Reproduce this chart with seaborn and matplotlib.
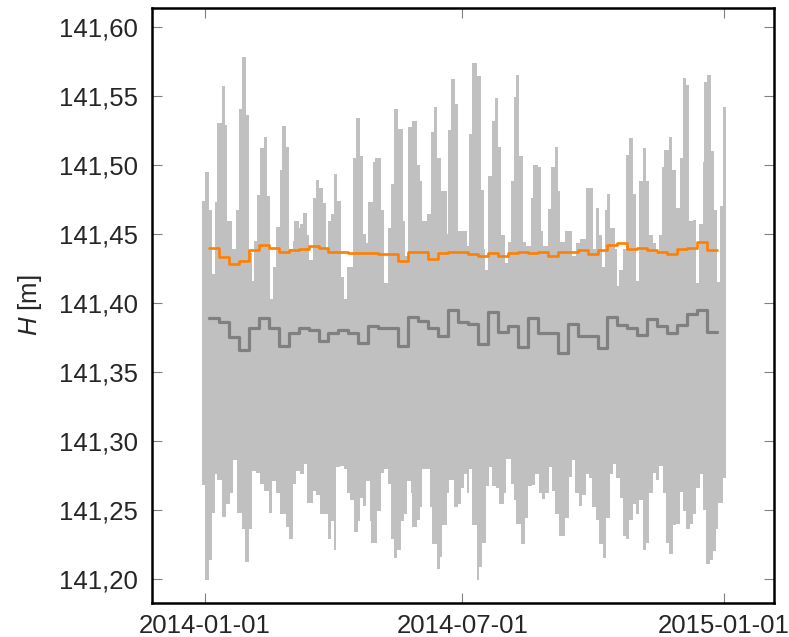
import numpy as np
import pandas as pd
import matplotlib
matplotlib.use("Agg")
import matplotlib.pyplot as plt
import seaborn as sns
from matplotlib.ticker import FuncFormatter

sns.set_theme(style="white")
plt.rcParams["font.family"] = ["Liberation Sans", "DejaVu Sans"]
plt.rcParams["mathtext.fontset"] = "custom"
plt.rcParams["mathtext.it"] = "Liberation Sans:italic"
plt.rcParams["mathtext.rm"] = "Liberation Sans"

# ---------------- data ----------------
START = "2014-01-01"

# upper envelope of hourly water level H (day offset from START, value in m)
upper_day = [-2, 0, 3, 5, 7, 9, 12, 14, 16, 19, 22, 24, 26, 29, 31, 33, 35, 37, 39, 42,
             44, 46, 48, 50, 53, 54, 57, 59, 62, 63, 66, 67, 69, 72, 73, 76, 78, 80, 83, 85,
             87, 89, 91, 93, 96, 98, 100, 104, 106, 109, 111, 113, 115, 118, 120, 124, 126, 129, 131, 133,
             136, 139, 141, 143, 146, 149, 151, 153, 156, 159, 161, 163, 166, 170, 171, 173, 176, 178, 182, 184,
             186, 188, 191, 194, 196, 197, 199, 202, 204, 206, 208, 211, 213, 215, 217, 219, 221, 224, 226, 229,
             231, 234, 236, 238, 241, 243, 246, 248, 250, 253, 258, 261, 264, 268, 273, 275, 277, 279, 281, 283,
             285, 288, 290, 291, 294, 296, 298, 301, 303, 305, 308, 310, 312, 315, 317, 319, 321, 323, 326, 328,
             331, 334, 336, 338, 340, 343, 345, 347, 350, 351, 353, 356, 358, 360, 362, 364, 366.5]
upper_h = [141.474, 141.495, 141.467, 141.421, 141.473, 141.530, 141.557, 141.529, 141.459, 141.439,
           141.467, 141.540, 141.578, 141.536, 141.436, 141.416, 141.445, 141.478, 141.512, 141.520,
           141.477, 141.403, 141.426, 141.455, 141.496, 141.528, 141.513, 141.439, 141.445, 141.459,
           141.454, 141.457, 141.465, 141.449, 141.431, 141.476, 141.489, 141.483, 141.472, 141.439,
           141.459, 141.464, 141.493, 141.474, 141.419, 141.403, 141.426, 141.505, 141.534, 141.506,
           141.450, 141.443, 141.473, 141.502, 141.505, 141.467, 141.414, 141.454, 141.486, 141.540,
           141.526, 141.459, 141.434, 141.527, 141.532, 141.500, 141.488, 141.459, 141.464, 141.524,
           141.542, 141.505, 141.481, 141.450, 141.525, 141.562, 141.544, 141.452, 141.452, 141.441,
           141.522, 141.574, 141.564, 141.482, 141.439, 141.424, 141.492, 141.532, 141.548, 141.513,
           141.449, 141.429, 141.444, 141.488, 141.549, 141.565, 141.506, 141.444, 141.441, 141.476,
           141.500, 141.498, 141.452, 141.441, 141.468, 141.498, 141.513, 141.481, 141.444, 141.452,
           141.434, 141.443, 141.446, 141.483, 141.439, 141.469, 141.449, 141.426, 141.467, 141.479,
           141.454, 141.439, 141.412, 141.424, 141.439, 141.507, 141.519, 141.479, 141.416, 141.488,
           141.512, 141.488, 141.449, 141.443, 141.436, 141.449, 141.498, 141.511, 141.520, 141.496,
           141.469, 141.505, 141.563, 141.558, 141.459, 141.460, 141.414, 141.457, 141.502, 141.560,
           141.565, 141.510, 141.467, 141.415, 141.470, 141.542, 141.542]

# lower envelope
lower_day = [-2, 0, 3, 5, 7, 9, 12, 15, 18, 20, 23, 26, 28, 31, 33, 36, 39, 42, 45, 47,
             50, 53, 57, 59, 62, 64, 67, 70, 72, 76, 78, 81, 85, 87, 89, 91, 92, 95, 98, 100,
             102, 105, 108, 109, 111, 113, 116, 117, 121, 124, 126, 129, 131, 133, 135, 138, 140, 142, 145, 146,
             149, 151, 153, 156, 158, 160, 163, 165, 167, 170, 172, 175, 178, 180, 182, 184, 186, 188, 191, 193,
             195, 198, 200, 202, 205, 207, 210, 212, 215, 217, 219, 222, 225, 227, 230, 232, 235, 237, 239, 242,
             244, 246, 249, 252, 253, 256, 258, 260, 263, 265, 268, 270, 272, 275, 277, 280, 282, 285, 287, 289,
             292, 294, 296, 298, 301, 303, 305, 308, 310, 312, 315, 317, 319, 322, 324, 326, 329, 331, 334, 336,
             338, 341, 343, 345, 348, 350, 352, 355, 357, 359, 361, 364, 366.5]
lower_h = [141.268, 141.199, 141.214, 141.248, 141.276, 141.272, 141.245, 141.254, 141.262, 141.286,
           141.248, 141.236, 141.212, 141.236, 141.278, 141.277, 141.269, 141.264, 141.248, 141.271,
           141.262, 141.247, 141.238, 141.229, 141.269, 141.278, 141.276, 141.283, 141.255, 141.264,
           141.261, 141.247, 141.247, 141.229, 141.242, 141.221, 141.281, 141.282, 141.280, 141.262,
           141.257, 141.234, 141.242, 141.259, 141.253, 141.271, 141.242, 141.226, 141.249, 141.277,
           141.280, 141.269, 141.229, 141.215, 141.221, 141.242, 141.247, 141.271, 141.262, 141.238,
           141.243, 141.252, 141.280, 141.280, 141.252, 141.225, 141.207, 141.216, 141.239, 141.262,
           141.272, 141.252, 141.254, 141.266, 141.276, 141.262, 141.280, 141.239, 141.199, 141.209,
           141.226, 141.267, 141.281, 141.267, 141.266, 141.254, 141.262, 141.287, 141.269, 141.257,
           141.240, 141.225, 141.244, 141.267, 141.268, 141.276, 141.262, 141.258, 141.262, 141.281,
           141.264, 141.247, 141.231, 141.231, 141.244, 141.274, 141.286, 141.262, 141.253, 141.261,
           141.276, 141.273, 141.252, 141.243, 141.225, 141.215, 141.244, 141.276, 141.283, 141.273,
           141.259, 141.231, 141.229, 141.243, 141.254, 141.247, 141.257, 141.221, 141.226, 141.262,
           141.277, 141.272, 141.282, 141.262, 141.226, 141.218, 141.239, 141.240, 141.263, 141.249,
           141.236, 141.240, 141.247, 141.266, 141.276, 141.250, 141.211, 141.214, 141.220, 141.236,
           141.255, 141.273, 141.273]

# weekly statistics (step lines), weeks starting 2014-01-04
week_start = "2014-01-04"
orange_weekly = [141.440, 141.433, 141.428, 141.430, 141.438, 141.442, 141.440, 141.437, 141.438, 141.439,
                 141.441, 141.440, 141.437, 141.437, 141.436, 141.436, 141.436, 141.435, 141.435, 141.430,
                 141.437, 141.437, 141.432, 141.436, 141.437, 141.437, 141.435, 141.434, 141.436, 141.434,
                 141.436, 141.437, 141.436, 141.437, 141.434, 141.437, 141.437, 141.438, 141.435, 141.438,
                 141.442, 141.443, 141.439, 141.440, 141.438, 141.437, 141.435, 141.439, 141.440, 141.444,
                 141.438]
gray_weekly = [141.389, 141.386, 141.375, 141.366, 141.382, 141.389, 141.382, 141.369, 141.378, 141.382,
               141.380, 141.372, 141.378, 141.380, 141.378, 141.371, 141.383, 141.382, 141.382, 141.369,
               141.390, 141.387, 141.382, 141.376, 141.395, 141.386, 141.385, 141.370, 141.393, 141.379,
               141.383, 141.368, 141.389, 141.378, 141.378, 141.364, 141.385, 141.376, 141.376, 141.367,
               141.390, 141.384, 141.382, 141.377, 141.388, 141.383, 141.378, 141.384, 141.392, 141.395,
               141.379]

ytick_values = [141.20, 141.25, 141.30, 141.35, 141.40, 141.45, 141.50, 141.55, 141.60]
xtick_labels = ["2014-01-01", "2014-07-01", "2015-01-01"]
x_limits = ("2013-11-25", "2015-02-05")
y_limits = (141.1826, 141.6135)

# ---------------- figure ----------------
fig = plt.figure(figsize=(7.89, 6.37), dpi=100)
ax = fig.add_axes([152 / 789, 1 - 603 / 637, (774 - 152) / 789, (603 - 8) / 637])

start = pd.Timestamp(START)
ud = (start + pd.to_timedelta(np.array(upper_day, dtype=float), unit="D")).values
ld = (start + pd.to_timedelta(np.array(lower_day, dtype=float), unit="D")).values
band_color = "#c0c0c0"
ax.fill_between(ud, 141.33, upper_h, step="post", color=band_color, lw=0)
ax.fill_between(ld, lower_h, 141.37, step="post", color=band_color, lw=0)

weeks = pd.date_range(week_start, periods=len(orange_weekly) + 1, freq="7D")
df = pd.DataFrame({
    "date": weeks,
    "orange": orange_weekly + [orange_weekly[-1]],
    "gray": gray_weekly + [gray_weekly[-1]],
})
sns.lineplot(data=df, x="date", y="gray", ax=ax, color="#808080", lw=2.3,
             drawstyle="steps-post", estimator=None)
sns.lineplot(data=df, x="date", y="orange", ax=ax, color="#ff8000", lw=1.9,
             drawstyle="steps-post", estimator=None)

ax.set_xlim(pd.Timestamp(x_limits[0]), pd.Timestamp(x_limits[1]))
ax.set_ylim(*y_limits)
ax.set_xticks(pd.to_datetime(xtick_labels))
ax.set_xticklabels(xtick_labels)
ax.set_yticks(ytick_values)
ax.yaxis.set_major_formatter(FuncFormatter(lambda v, p: f"{v:.2f}".replace(".", ",")))

ax.tick_params(direction="in", length=7, width=0.8, color="#808080",
               top=True, right=True, bottom=True, left=True, labelsize=18.5)
ax.tick_params(axis="y", pad=10)
ax.tick_params(axis="x", pad=8)
ax.set_xlabel("")
ax.set_ylabel(r"$H$ [m]", fontsize=18.5)
ax.yaxis.set_label_coords(-0.174, 0.5)

for s in ax.spines.values():
    s.set_linewidth(1.8)
    s.set_color("black")
    s.set_visible(True)

fig.savefig("out.png", dpi=100)
